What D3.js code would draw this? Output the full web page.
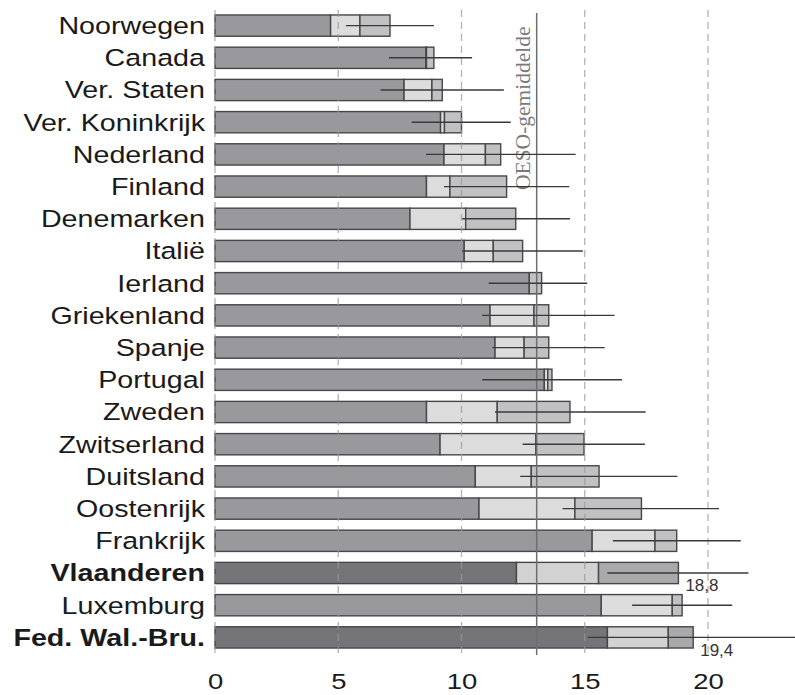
<!DOCTYPE html>
<html lang="nl">
<head>
<meta charset="UTF-8">
<title>OESO</title>
<script src="https://d3js.org/d3.v7.min.js"></script>
<style>
    body { margin: 0; background: #fff; }
    svg { display: block; }
</style>
</head>
<body>
<svg></svg>
<script>

    // landen van boven naar onder
    const countries = ["Noorwegen", "Canada", "Ver. Staten", "Ver. Koninkrijk", "Nederland", "Finland",
        "Denemarken", "Italië", "Ierland", "Griekenland", "Spanje", "Portugal", "Zweden", "Zwitserland",
        "Duitsland", "Oostenrijk", "Frankrijk", "Vlaanderen", "Luxemburg", "Fed. Wal.-Bru."];

    // einde van elk segment (cumulatief)
    const part1 = [4.69, 8.56, 7.67, 9.15, 9.29, 8.58, 7.91, 10.11, 12.75, 11.16, 11.36, 13.36, 8.58, 9.13, 10.56, 10.71, 15.3, 12.23, 15.67, 15.92];
    const part2 = [5.88, 8.58, 8.8, 9.31, 10.97, 9.53, 10.17, 11.29, 12.75, 12.94, 12.54, 13.5, 11.45, 13.02, 12.83, 14.6, 17.85, 15.56, 18.55, 18.39];
    const total = [7.1, 8.88, 9.22, 10.0, 11.59, 11.83, 12.2, 12.48, 13.25, 13.54, 13.54, 13.67, 14.4, 14.97, 15.58, 17.3, 18.73, 18.8, 18.95, 19.4];

    // horizontale lijn per land
    const lineLo = [5.31, 7.06, 6.72, 7.98, 8.56, 9.29, 10.03, 10.03, 11.1, 10.84, 11.25, 10.84, 11.36, 12.48, 12.38, 14.1, 16.14, 15.92, 16.92, 15.12];
    const lineHi = [8.88, 10.43, 11.72, 12.0, 14.63, 14.37, 14.4, 14.92, 15.1, 16.21, 15.81, 16.51, 17.47, 17.44, 18.76, 20.45, 21.33, 21.64, 20.98, 24.5];

    const highlight = ["Vlaanderen", "Fed. Wal.-Bru."];
    const valueLabels = { "Vlaanderen": "18,8", "Fed. Wal.-Bru.": "19,4" };
    const oecdMean = 13.05;
    const xTicks = [0, 5, 10, 15, 20];

    const width = 795, height = 695;

    const svg = d3.select("svg").attr("width", width).attr("height", height);

    const x = d3.scaleLinear().domain([0, 20]).range([215, 708]);
    const y = d3.scaleBand().domain(countries).range([9.5, 653.5])
        .paddingInner(0.34).paddingOuter(0.17);

    const data = countries.map((c, i) => ({
        name: c, p1: part1[i], p2: part2[i], t: total[i], lo: lineLo[i], hi: lineHi[i],
        hl: highlight.includes(c)
    }));

    const colors = {
        normal: ["#99999d", "#dcdcdd", "#c1c1c3"],
        hl: ["#757579", "#d2d2d3", "#a9a9ab"]
    };

    // segmenten
    const rows = svg.append("g").selectAll("g")
        .data(data)
        .join("g");

    rows.each(function (d) {
        const g = d3.select(this);
        const segs = [[0, d.p1], [d.p1, d.p2], [d.p2, d.t]];
        const col = d.hl ? colors.hl : colors.normal;
        segs.forEach((s, k) => {
            g.append("rect")
                .attr("x", x(s[0]))
                .attr("y", y(d.name))
                .attr("width", Math.max(0, x(s[1]) - x(s[0])))
                .attr("height", y.bandwidth())
                .attr("fill", col[k])
                .attr("stroke", "#47474a")
                .attr("stroke-width", 1.4);
        });
    });

    // rasterlijnen
    svg.append("g")
        .selectAll("line")
        .data(xTicks)
        .join("line")
        .attr("x1", d => x(d)).attr("x2", d => x(d))
        .attr("y1", 10).attr("y2", 655)
        .attr("stroke", "#9a9a9a")
        .attr("stroke-width", 1.3)
        .attr("stroke-dasharray", "7,5")
        .attr("opacity", 0.75);

    // OESO-gemiddelde
    svg.append("line")
        .attr("x1", x(oecdMean)).attr("x2", x(oecdMean))
        .attr("y1", 13).attr("y2", 655)
        .attr("stroke", "#6e6e70")
        .attr("stroke-width", 1.5);

    svg.append("text")
        .attr("transform", `translate(${x(oecdMean) - 7},190) rotate(-90)`)
        .attr("font-family", "'Liberation Serif', 'Times New Roman', serif")
        .attr("font-size", 21.5)
        .attr("fill", "#7a7a7a")
        .text("OESO-gemiddelde");

    // horizontale lijnen
    svg.append("g")
        .selectAll("line")
        .data(data)
        .join("line")
        .attr("x1", d => x(d.lo)).attr("x2", d => x(d.hi))
        .attr("y1", d => y(d.name) + y.bandwidth() / 2)
        .attr("y2", d => y(d.name) + y.bandwidth() / 2)
        .attr("stroke", "#3a3a3a")
        .attr("stroke-width", 1.4);

    // waardelabels
    svg.append("g")
        .selectAll("text")
        .data(data.filter(d => valueLabels[d.name]))
        .join("text")
        .attr("x", d => x(d.t) + 7)
        .attr("y", d => y(d.name) + y.bandwidth() + 7.5)
        .attr("font-family", "'Liberation Sans', Arial, sans-serif")
        .attr("font-size", 17)
        .attr("fill", "#333")
        .text(d => valueLabels[d.name]);

    // landnamen (iets breed getrokken zoals in het origineel)
    svg.append("g")
        .selectAll("text")
        .data(data)
        .join("text")
        .attr("transform", d => `translate(205,${y(d.name) + y.bandwidth() / 2}) scale(1.22,1)`)
        .attr("dy", "0.36em")
        .attr("text-anchor", "end")
        .attr("font-family", "'Liberation Sans', Arial, sans-serif")
        .attr("font-size", 23.5)
        .attr("font-weight", d => d.hl ? "bold" : "normal")
        .attr("fill", "#1a1a1a")
        .text(d => d.name);

    // x-as
    const axis = svg.append("g")
        .attr("transform", "translate(0,655)")
        .call(d3.axisBottom(x).tickValues(xTicks).tickSize(0).tickFormat(d3.format("d")));
    axis.select(".domain").remove();
    axis.selectAll("text")
        .attr("y", 34.5)
        .attr("dy", 0)
        .attr("transform", "scale(1.22,1)")
        .attr("font-family", "'Liberation Sans', Arial, sans-serif")
        .attr("font-size", 22.5)
        .attr("fill", "#1a1a1a");

</script>
</body>
</html>
